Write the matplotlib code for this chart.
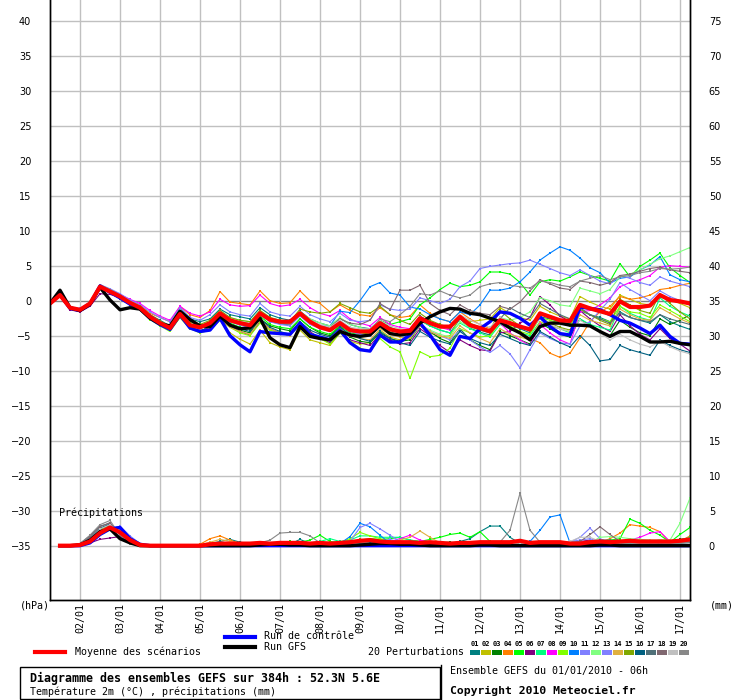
import matplotlib
matplotlib.use("Agg")
import matplotlib.pyplot as plt
from matplotlib.patches import Rectangle
from matplotlib.transforms import ScaledTranslation
import numpy as np

MONO = "DejaVu Sans Mono"

# time axis: 01/01/2010 06h + 6h steps, 384h
hours_t = np.arange(0, 385, 6)
hours_p = hours_t[1:]
date_ticks = np.arange(18, 384, 24)
date_labels = ["%02d/01" % d for d in range(2, 18)]

# ---- temperature 2m (degC) ----
mean_t = [-0.4, 0.8, -1.0, -1.3, -0.4, 2.0, 1.3, 0.6, -0.3, -1.0, -2.3, -3.2, -3.9, -1.9, -3.5, -3.8,
          -3.2, -1.8, -2.8, -3.2, -3.5, -1.8, -2.7, -3.0, -3.0, -1.8, -3.0, -3.8, -4.2, -3.2, -4.2, -4.4,
          -4.4, -3.2, -4.1, -4.4, -4.3, -2.5, -3.2, -3.7, -3.7, -2.3, -3.5, -3.9, -4.4, -2.8, -3.2, -3.7,
          -4.1, -1.8, -2.3, -2.8, -2.9, -0.6, -1.1, -1.5, -1.9, -0.1, -0.9, -0.9, -0.7, 0.8, 0.1, -0.1, -0.4]
control_t = [-0.4, 0.9, -1.1, -1.4, -0.5, 2.1, 1.2, 0.4, -0.5, -1.1, -2.5, -3.4, -4.1, -2.0, -3.9, -4.4,
             -4.2, -2.5, -5.0, -6.3, -7.3, -4.4, -4.6, -4.7, -4.8, -3.2, -4.8, -5.2, -5.6, -4.2, -6.0, -7.0,
             -7.2, -4.9, -5.9, -5.9, -4.9, -3.2, -4.9, -7.0, -7.8, -5.1, -5.4, -4.0, -3.0, -1.6, -1.8, -2.5,
             -3.5, -2.3, -3.7, -4.7, -4.9, -0.9, -1.1, -1.3, -2.0, -2.8, -3.2, -3.9, -4.7, -3.5, -5.1, -6.1, -6.2]
gfs_t = [-0.4, 1.5, -1.0, -1.4, -0.5, 1.9, 0.1, -1.3, -1.0, -1.2, -2.5, -3.3, -3.6, -1.5, -2.7, -3.6,
         -3.7, -2.2, -3.5, -4.0, -3.9, -2.5, -5.3, -6.3, -6.7, -3.7, -5.1, -5.4, -5.6, -4.4, -4.9, -5.1,
         -4.9, -3.5, -4.7, -4.9, -4.7, -3.2, -2.3, -1.6, -1.1, -1.2, -1.8, -2.0, -2.5, -3.0, -3.9, -4.6,
         -5.6, -3.7, -3.2, -3.2, -3.5, -3.5, -3.6, -4.4, -5.1, -4.4, -4.4, -5.1, -5.9, -5.9, -5.8, -6.1, -6.3]

t01 = [-0.4, 0.7, -1.2, -1.5, -0.6, 1.9, 1.4, 0.8, -0.1, -0.8, -2.0, -2.8, -3.6,
       -1.0, -2.6, -3.0, -2.6, -1.2, -2.0, -2.3, -2.6, -1.0, -2.0, -2.5, -2.8,
       -1.5, -2.6, -3.2, -3.6, -2.5, -3.4, -3.8, -4.0, -2.8, -3.8, -4.4, -4.6,
       -2.8, -3.6, -4.2, -4.6, -2.6, -3.9, -4.5, -4.9, -2.9, -3.4, -4.0, -4.6,
       -2.3, -2.6, -3.0, -3.3, -1.4, -2.0, -2.4, -3.0, -1.6, -2.4, -2.8, -3.2, -2.0, -3.0, -3.6, -4.1]
t02 = [-0.4, 0.9, -0.9, -1.2, -0.3, 2.2, 1.5, 0.7, -0.4, -1.2, -2.6, -3.5, -4.2,
       -2.4, -4.0, -4.4, -4.0, -2.8, -4.6, -5.5, -6.2, -4.2, -6.0, -6.6, -7.0,
       -4.2, -5.6, -6.0, -6.4, -4.6, -5.8, -6.2, -6.0, -4.2, -5.2, -5.6, -5.4,
       -3.4, -4.6, -5.2, -5.0, -2.2, -3.0, -2.8, -2.6, -1.0, -1.8, -2.4, -2.8,
       -0.8, -1.6, -2.2, -2.6, 0.6, -0.2, -0.8, -1.2, 0.8, 0.2, -0.4, -0.6, 1.0, 0.2, -0.4, -1.0]
t03 = [-0.4, 0.8, -1.1, -1.4, -0.5, 1.9, 1.2, 0.5, -0.4, -1.1, -2.4, -3.3, -4.0,
       -2.2, -3.9, -4.3, -3.8, -2.4, -3.5, -4.2, -4.6, -2.6, -3.6, -4.0, -4.3,
       -2.6, -3.8, -4.6, -5.0, -3.6, -5.2, -5.8, -6.0, -4.6, -5.4, -5.8, -5.6,
       -3.6, -4.4, -5.4, -6.0, -4.0, -5.6, -6.4, -7.0, -4.4, -5.0, -5.6, -6.2,
       -3.2, -4.0, -4.8, -5.2, -2.6, -3.6, -4.4, -5.0, -2.8, -3.8, -4.6, -5.0, -2.6, -3.4, -2.8, -2.0]
t04 = [-0.4, 0.8, -1.0, -1.2, -0.2, 2.2, 1.6, 0.9, 0.0, -0.6, -1.8, -2.4, -3.0,
       -0.8, -2.0, -2.4, -1.4, 1.3, -0.2, -0.4, -0.6, 1.4, 0.0, -0.4, -0.3,
       1.4, 0.0, -0.4, -1.6, -0.6, -1.4, -2.0, -2.2, -1.0, -2.0, -2.4, -2.2,
       -0.6, -1.8, -2.6, -3.0, -1.6, -2.6, -3.4, -4.0, -2.8, -3.8, -4.6, -5.4,
       -6.0, -7.5, -8.1, -7.5, -5.3, -3.0, -1.6, -0.8, 0.6, 0.2, 0.4, 0.8, 1.6, 1.8, 2.2, 2.5]
t05 = [-0.4, 0.8, -1.0, -1.3, -0.4, 2.1, 1.4, 0.7, -0.2, -1.0, -2.2, -3.0, -3.8,
       -1.8, -3.6, -4.0, -3.4, -2.0, -3.2, -3.8, -4.0, -2.2, -3.4, -3.8, -4.0,
       -2.6, -3.8, -4.4, -4.8, -3.6, -4.6, -4.8, -4.6, -2.8, -3.4, -3.0, -2.6,
       -0.6, 0.4, 1.6, 2.5, 2.0, 2.2, 2.7, 4.1, 4.1, 3.8, 2.6, 0.8,
       2.7, 3.0, 2.8, 3.4, 4.1, 3.6, 3.2, 2.8, 5.3, 3.4, 4.9, 5.8, 6.8, 4.7, 3.6, 2.6]
t06 = [-0.4, 0.6, -1.3, -1.6, -0.8, 1.0, 0.9, 0.5, -0.5, -1.2, -2.6, -3.5, -4.2,
       -2.3, -3.8, -4.3, -3.8, -2.4, -3.6, -4.4, -4.9, -3.0, -4.0, -4.6, -5.0,
       -3.0, -4.4, -5.4, -6.0, -4.6, -5.6, -6.0, -6.4, -4.8, -5.6, -6.2, -6.0,
       -4.0, -5.0, -6.4, -7.4, -5.6, -6.4, -7.0, -7.2, -4.6, -4.4, -3.2, -2.4,
       0.6, -0.6, -2.2, -3.0, -1.4, -2.6, -3.6, -4.4, -2.0, -3.6, -4.8, -5.6, -4.0, -5.4, -6.2, -7.2]
t07 = [-0.4, 0.8, -0.9, -1.2, -0.3, 2.0, 1.3, 0.6, -0.3, -1.0, -2.2, -3.1, -3.8,
       -1.8, -3.4, -3.7, -3.0, -1.4, -2.6, -3.0, -3.3, -1.6, -2.6, -3.0, -3.1,
       -1.8, -3.0, -3.6, -4.0, -3.0, -4.0, -4.2, -4.2, -3.0, -4.0, -4.4, -4.6,
       -2.8, -3.6, -4.2, -4.6, -3.2, -4.0, -4.6, -5.2, -3.4, -4.0, -4.6, -5.0,
       -3.0, -3.6, -4.0, -4.6, -2.6, -3.4, -3.8, -4.2, -0.8, -1.8, -2.4, -2.8, 0.4, -0.8, -1.6, -2.2]
t08 = [-0.4, 0.8, -1.0, -1.2, -0.3, 2.1, 1.5, 0.9, 0.2, -0.4, -1.4, -2.2, -2.8,
       -0.8, -1.8, -2.2, -1.6, 0.2, -0.6, -0.8, -0.7, 0.8, -0.4, -0.8, -0.6,
       0.2, -1.0, -1.8, -2.2, -1.4, -2.6, -3.2, -3.6, -2.4, -3.4, -3.8, -4.0,
       -2.2, -3.2, -3.8, -4.2, -2.0, -3.4, -4.0, -4.4, -3.2, -4.6, -5.6, -6.4,
       -3.4, -4.6, -5.6, -6.2, -1.6, -1.4, -0.6, 0.4, 2.0, 2.6, 3.0, 3.6, 4.8, 5.0, 4.9, 4.8]
t09 = [-0.4, 0.8, -1.1, -1.4, -0.5, 1.9, 1.2, 0.4, -0.5, -1.3, -2.7, -3.6, -4.4,
       -2.4, -4.0, -4.6, -4.2, -2.8, -3.8, -4.6, -5.0, -3.2, -4.2, -4.6, -5.0,
       -3.2, -4.6, -5.4, -6.2, -4.6, -5.8, -6.8, -7.2, -5.4, -6.6, -7.3, -11.1,
       -7.3, -8.0, -7.8, -6.8, -4.0, -4.6, -5.2, -5.0, -3.0, -3.6, -4.4, -4.8,
       -2.4, -2.8, -3.2, -3.6, -1.2, -2.0, -2.6, -3.0, -0.8, -1.6, -1.8, -2.4, -0.6, -1.4, -2.2, -3.0]
t10 = [-0.4, 0.9, -1.0, -1.3, -0.4, 2.1, 1.4, 0.6, -0.4, -1.1, -2.4, -3.3, -4.0,
       -2.0, -3.6, -3.9, -3.4, -2.0, -3.0, -3.4, -3.8, -2.0, -3.0, -3.3, -3.4,
       -2.0, -3.2, -3.6, -3.6, -1.5, -1.7, 0.0, 2.0, 2.6, 1.1, 0.8, -0.9,
       -1.2, -2.0, -2.6, -3.0, -1.6, -2.0, -0.6, 1.5, 1.5, 1.8, 2.7, 4.1,
       5.8, 6.8, 7.7, 7.2, 6.1, 4.7, 4.0, 2.5, 3.2, 3.4, 4.4, 5.1, 6.3, 3.7, 3.0, 2.7]
t11 = [-0.4, 0.8, -0.9, -1.1, -0.2, 2.3, 1.7, 1.0, 0.1, -0.6, -1.6, -2.4, -3.0,
       -1.0, -2.4, -2.8, -2.0, -0.6, -1.6, -2.0, -2.2, -0.4, -1.6, -2.0, -2.2,
       -0.8, -2.0, -2.6, -3.0, -1.8, -2.8, -3.0, -2.8, -0.6, -1.2, -1.4, -1.2,
       0.4, 0.0, -0.4, 0.2, 2.0, 2.8, 4.6, 4.9, 5.1, 5.3, 5.4, 5.8,
       5.2, 4.6, 4.0, 3.6, 4.4, 3.6, 2.8, 2.4, 3.6, 3.2, 2.6, 2.2, 3.4, 2.8, 2.4, 2.0]
t12 = [-0.4, 0.8, -1.0, -1.3, -0.4, 2.0, 1.3, 0.6, -0.2, -0.9, -2.1, -3.0, -3.7,
       -1.6, -3.2, -3.6, -3.0, -1.6, -2.4, -2.8, -3.0, -1.4, -2.4, -2.8, -3.0,
       -1.6, -2.6, -3.2, -3.6, -2.4, -3.4, -3.8, -4.2, -3.0, -4.4, -5.0, -5.4,
       -3.4, -4.2, -4.8, -5.2, -3.0, -3.8, -4.2, -4.6, -2.4, -2.8, -2.4, -1.6,
       0.4, 0.0, -0.6, -0.8, 1.8, 1.4, 1.0, 1.6, 3.4, 3.8, 4.4, 5.2, 6.0, 6.4, 7.0, 7.6]
t13 = [-0.4, 0.8, -1.0, -1.4, -0.5, 1.8, 1.2, 0.5, -0.4, -1.1, -2.4, -3.3, -4.0,
       -1.9, -3.6, -4.0, -3.4, -2.0, -3.0, -3.5, -3.8, -2.0, -3.0, -3.4, -3.6,
       -2.2, -3.4, -4.0, -4.4, -3.4, -4.4, -4.8, -5.0, -3.8, -4.6, -5.0, -5.2,
       -3.6, -4.4, -5.0, -5.6, -4.2, -5.6, -6.6, -7.4, -6.4, -7.6, -9.6, -7.0,
       -4.6, -5.4, -6.0, -6.2, -3.6, -3.0, -1.4, 0.2, 2.6, 1.6, 0.8, 0.0, 1.4, 0.6, 0.0, -0.6]
t14 = [-0.4, 0.7, -1.1, -1.4, -0.5, 2.0, 1.3, 0.5, -0.4, -1.1, -2.4, -3.4, -4.1,
       -2.2, -3.8, -4.4, -4.0, -2.6, -3.8, -4.4, -4.8, -2.8, -4.0, -4.6, -5.0,
       -3.4, -4.6, -5.2, -5.6, -4.0, -5.0, -5.4, -5.6, -4.0, -4.8, -5.2, -5.4,
       -3.6, -4.4, -5.0, -5.4, -3.6, -4.6, -5.4, -6.0, -4.0, -4.8, -5.2, -5.6,
       -3.0, -3.6, -4.0, -4.4, -2.0, -2.8, -3.2, -3.6, -1.2, -2.0, -2.6, -2.8, -1.0, -1.8, -2.6, -3.2]
t15 = [-0.4, 0.8, -1.0, -1.3, -0.4, 2.0, 1.3, 0.6, -0.2, -0.8, -2.0, -2.9, -3.6,
       -1.6, -3.0, -3.4, -2.8, -1.4, -2.4, -2.8, -3.0, -1.4, -2.4, -2.8, -3.0,
       -1.2, -1.6, -1.8, -1.6, -0.4, -1.0, -1.6, -1.8, -0.8, -2.0, -2.8, -3.4,
       -1.8, -2.8, -3.4, -3.8, -2.2, -3.2, -3.8, -4.2, -1.4, -2.6, -3.6, -4.4,
       -2.4, -3.2, -3.8, -4.2, -1.2, -2.0, -2.8, -3.4, 0.2, -0.6, -1.4, -1.8, 1.0, -0.4, -1.6, -2.6]
t16 = [-0.4, 0.7, -1.2, -1.5, -0.6, 1.8, 1.1, 0.3, -0.6, -1.3, -2.6, -3.5, -4.2,
       -2.3, -3.9, -4.4, -3.6, -2.2, -3.4, -4.0, -4.4, -2.6, -3.8, -4.4, -4.8,
       -3.0, -4.2, -4.8, -5.2, -3.8, -4.8, -5.4, -5.8, -4.4, -5.4, -6.0, -6.4,
       -4.4, -5.2, -5.8, -6.2, -4.4, -5.4, -6.0, -6.4, -4.8, -5.4, -6.0, -6.4,
       -4.4, -5.2, -6.0, -6.6, -5.0, -6.4, -8.6, -8.4, -6.4, -7.0, -7.4, -7.8, -5.6, -6.4, -7.0, -7.4]
t17 = [-0.4, 0.8, -1.0, -1.3, -0.4, 2.0, 1.4, 0.7, -0.2, -0.9, -2.1, -3.0, -3.7,
       -1.7, -3.4, -3.8, -3.2, -1.8, -2.8, -3.2, -3.4, -1.8, -2.8, -3.2, -3.4,
       -2.0, -3.2, -3.8, -4.2, -3.0, -4.0, -4.4, -4.6, -3.4, -4.2, -4.6, -4.8,
       -2.2, -3.0, -3.6, -4.0, -2.4, -3.6, -4.2, -4.6, -2.6, -1.0, -1.8, -2.4,
       -0.4, -1.2, -2.0, -2.6, -1.0, -2.0, -2.6, -3.2, -1.8, -2.4, -2.8, -3.0, -2.0, -2.6, -3.0, -3.4]
t18 = [-0.4, 0.8, -1.0, -1.3, -0.4, 2.0, 1.3, 0.6, -0.3, -1.0, -2.2, -3.1, -3.8,
       -1.8, -3.4, -3.8, -3.2, -1.8, -2.8, -3.2, -3.4, -1.8, -2.8, -3.1, -3.3,
       -1.9, -3.0, -3.6, -3.8, -2.6, -3.2, -3.4, -2.8, -0.4, -1.3, 1.5, 1.5,
       2.2, -0.4, -1.4, -2.0, -0.6, -1.4, -1.8, -2.0, -0.8, -1.2, -0.2, 1.4,
       3.0, 2.4, 1.8, 1.6, 2.8, 2.6, 2.2, 2.6, 3.6, 3.8, 4.2, 4.6, 4.8, 4.4, 4.2, 4.0]
t19 = [-0.4, 0.8, -1.0, -1.2, -0.3, 2.1, 1.4, 0.7, -0.2, -0.9, -2.2, -3.1, -3.8,
       -1.8, -3.5, -3.8, -3.2, -1.6, -2.6, -3.0, -3.2, -1.6, -2.6, -3.0, -3.2,
       -1.8, -2.8, -3.4, -3.8, -2.8, -3.8, -4.0, -4.0, -2.8, -3.6, -4.0, -4.2,
       -2.4, -3.2, -3.6, -3.8, -2.0, -2.8, -3.4, -3.8, -2.4, -3.2, -3.8, -4.2,
       -2.6, -3.4, -4.0, -4.4, -2.8, -3.6, -4.6, -5.6, -4.8, -5.6, -6.2, -6.6, -5.8, -6.6, -7.2, -7.6]
t20 = [-0.4, 0.9, -0.9, -1.2, -0.3, 2.3, 1.6, 0.8, -0.2, -1.0, -2.3, -3.2, -3.9,
       -1.9, -3.5, -3.9, -3.2, -1.8, -2.9, -3.3, -3.4, -1.6, -2.8, -3.2, -3.4,
       -2.0, -3.2, -3.8, -4.2, -3.2, -4.2, -4.4, -4.2, -2.6, -3.0, -2.0, -0.8,
       1.0, 0.8, 1.4, 0.8, 0.4, 0.8, 2.0, 2.4, 2.6, 2.2, 2.0, 1.8,
       2.8, 2.6, 2.2, 2.0, 2.8, 3.2, 3.6, 3.0, 3.4, 3.6, 4.0, 4.2, 4.6, 4.5, 4.6, 4.8]

# ---- precipitation (mm per 6h), from +6h ----
mean_p = [0, 0, 0.1, 0.6, 1.8, 2.6, 1.9, 0.8, 0.1, 0, 0, 0, 0, 0, 0, 0.2,
          0.3, 0.3, 0.3, 0.3, 0.4, 0.3, 0.4, 0.4, 0.4, 0.3, 0.4, 0.3, 0.4, 0.5, 0.7, 0.8,
          0.6, 0.5, 0.5, 0.5, 0.4, 0.5, 0.4, 0.3, 0.4, 0.4, 0.5, 0.5, 0.5, 0.5, 0.7, 0.4,
          0.5, 0.5, 0.5, 0.3, 0.3, 0.5, 0.6, 0.5, 0.6, 0.7, 0.6, 0.6, 0.6, 0.6, 0.7, 0.9]
control_p = [0, 0, 0, 0.4, 1.6, 2.4, 2.6, 1.0, 0.2, 0, 0, 0, 0, 0, 0, 0,
             0, 0, 0, 0, 0, 0, 0, 0, 0, 0, 0, 0, 0, 0, 0, 0,
             0, 0, 0, 0, 0, 0, 0, 0, 0, 0, 0, 0, 0, 0, 0, 0,
             0, 0, 0, 0, 0, 0, 0, 0, 0, 0, 0, 0, 0, 0, 0, 0]
gfs_p = [0, 0, 0.1, 0.8, 2.0, 2.4, 1.0, 0.4, 0, 0, 0, 0, 0, 0, 0, 0,
         0, 0, 0, 0, 0.1, 0.2, 0.2, 0.1, 0.1, 0, 0, 0, 0, 0, 0.1, 0.2,
         0.3, 0.3, 0.2, 0.2, 0.1, 0, 0, 0, 0, 0, 0.1, 0.1, 0, 0, 0, 0,
         0, 0, 0, 0, 0, 0, 0.1, 0.1, 0, 0, 0, 0, 0, 0, 0, 0]

p01 = [0, 0, 0.2, 1.0, 2.4, 3.0, 1.6, 0.4, 0, 0, 0, 0, 0, 0, 0, 0.3,
       0.6, 0.9, 0.5, 0.3, 0.2, 0.2, 0.3, 0.2, 0.9, 0.3, 0.2, 0.1, 0.2, 0.3, 0.4, 0.2,
       0.2, 0.1, 0.2, 0.3, 0.2, 0.1, 0.2, 0.3, 0.6, 1.0, 2.0, 2.8, 2.8, 1.2, 0.3, 0.2,
       0.1, 0.2, 0.1, 0, 0.1, 0.2, 0.3, 0.2, 0.3, 0.4, 0.5, 0.3, 0.2, 0.1, 0.2, 0.3]
p02 = [0, 0, 0.1, 0.7, 2.0, 2.6, 1.8, 0.6, 0.1, 0, 0, 0, 0, 0, 0, 0.1,
       0.2, 0.3, 0.2, 0.1, 0.2, 0.3, 0.2, 0.1, 0.2, 0.3, 0.2, 0.2, 0.3, 0.5, 0.6, 0.4,
       0.3, 0.2, 0.3, 0.2, 0.2, 0.1, 0.2, 0.2, 0.3, 0.2, 0.3, 0.2, 0.1, 0.2, 0.3, 0.2,
       0.2, 0.3, 0.2, 0.1, 0.2, 0.3, 0.4, 0.2, 0.3, 0.6, 0.4, 0.3, 0.2, 0.3, 0.5, 0.4]
p03 = [0, 0, 0.1, 0.9, 2.4, 2.9, 1.7, 0.5, 0, 0, 0, 0, 0, 0, 0.1, 0.2,
       0.3, 0.2, 0.4, 0.3, 0.2, 0.3, 0.4, 0.3, 0.2, 0.4, 0.3, 0.2, 0.3, 0.4, 0.5, 0.6,
       0.4, 0.3, 0.2, 0.4, 0.3, 0.2, 0.4, 0.5, 0.3, 0.2, 0.4, 0.3, 0.2, 0.3, 0.2, 0.3,
       0.4, 0.3, 0.2, 0.3, 0.4, 0.5, 0.6, 0.8, 0.6, 0.5, 0.4, 0.6, 0.8, 0.6, 0.9, 1.1]
p04 = [0, 0, 0.1, 0.8, 2.2, 2.7, 1.8, 0.6, 0.1, 0, 0, 0, 0, 0, 0.2, 1.0,
       1.4, 0.8, 0.3, 0.2, 0.3, 0.2, 0.3, 0.2, 0.3, 0.2, 0.2, 0.3, 0.2, 0.3, 0.4, 0.3,
       0.2, 0.3, 0.2, 0.3, 0.4, 0.3, 0.2, 0.2, 0.3, 0.2, 0.3, 0.2, 0.3, 0.2, 0.2, 0.3,
       0.2, 0.3, 0.2, 0.2, 0.3, 0.4, 0.5, 1.0, 1.8, 3.0, 2.8, 2.6, 2.0, 0.4, 0.6, 1.4]
p05 = [0, 0, 0.1, 0.8, 2.1, 2.7, 1.9, 0.7, 0.1, 0, 0, 0, 0, 0, 0, 0.2,
       0.3, 0.2, 0.2, 0.3, 0.2, 0.3, 0.4, 0.6, 0.5, 0.8, 1.5, 0.6, 0.4, 0.5, 0.8, 1.0,
       0.9, 1.0, 1.2, 0.8, 0.6, 0.9, 1.2, 1.6, 1.8, 1.2, 2.0, 0.6, 0.4, 0.3, 0.2, 0.3,
       0.2, 0.3, 0.4, 0.5, 0.4, 0.5, 0.6, 0.8, 1.0, 3.8, 3.2, 2.2, 1.5, 0.5, 1.6, 2.6]
p06 = [0, 0, 0.1, 0.4, 0.9, 1.1, 1.3, 0.6, 0.1, 0, 0, 0, 0, 0, 0, 0.1,
       0.2, 0.1, 0.2, 0.3, 0.2, 0.1, 0.2, 0.3, 0.2, 0.1, 0.2, 0.3, 0.4, 0.3, 0.2, 0.3,
       0.4, 0.5, 0.3, 0.2, 0.3, 0.2, 0.1, 0.2, 0.3, 0.2, 0.1, 0.2, 0.3, 0.2, 0.1, 0.2,
       0.3, 0.2, 0.3, 0.4, 0.6, 0.8, 0.4, 0.3, 0.2, 0.3, 0.2, 0.4, 0.3, 0.2, 0.3, 0.4]
p07 = [0, 0, 0.1, 0.9, 2.3, 2.8, 1.8, 0.5, 0, 0, 0, 0, 0, 0, 0, 0.2,
       0.3, 0.2, 0.3, 0.2, 0.3, 0.4, 0.3, 0.2, 0.3, 0.4, 0.6, 1.0, 0.6, 0.8, 1.4, 1.4,
       1.2, 1.2, 1.2, 0.8, 0.6, 0.5, 0.4, 0.3, 0.4, 0.5, 0.3, 0.2, 0.3, 0.2, 0.3, 0.4,
       0.3, 0.2, 0.3, 0.2, 0.3, 0.4, 0.3, 0.5, 0.6, 0.8, 0.6, 0.5, 0.4, 0.6, 0.8, 1.2]
p08 = [0, 0, 0.2, 1.0, 2.3, 2.9, 2.0, 0.7, 0.1, 0, 0, 0, 0, 0, 0, 0.3,
       0.4, 0.5, 0.4, 0.3, 0.4, 0.3, 0.2, 0.3, 0.2, 0.3, 0.2, 0.3, 0.4, 0.3, 0.5, 0.6,
       0.5, 0.6, 1.0, 1.5, 0.8, 0.5, 0.4, 0.3, 0.4, 0.3, 0.4, 0.5, 0.4, 0.3, 0.2, 0.3,
       0.2, 0.3, 0.4, 0.3, 0.5, 0.6, 0.8, 0.7, 0.6, 0.8, 1.2, 1.8, 2.0, 0.6, 0.4, 0.5]
p09 = [0, 0, 0.1, 0.7, 2.0, 2.6, 1.9, 0.7, 0.1, 0, 0, 0, 0, 0, 0, 0.1,
       0.2, 0.3, 0.2, 0.1, 0.2, 0.3, 0.2, 0.3, 0.2, 0.3, 0.4, 0.3, 0.5, 1.0, 1.9, 1.4,
       1.0, 0.6, 0.4, 0.3, 0.2, 0.3, 0.2, 0.1, 0.2, 0.3, 0.2, 0.1, 0.2, 0.3, 0.2, 0.1,
       0.2, 0.1, 0.2, 0.3, 0.2, 0.3, 0.4, 0.3, 0.4, 0.5, 0.3, 0.4, 0.5, 0.6, 0.4, 0.5]
p10 = [0, 0, 0, 0.5, 1.7, 2.5, 2.7, 1.2, 0.3, 0, 0, 0, 0, 0, 0, 0.1,
       0.2, 0.1, 0.2, 0.1, 0.2, 0.1, 0.2, 0.1, 0.2, 0.1, 0.2, 0.1, 0.3, 1.3, 3.2, 2.7,
       1.5, 0.3, 0.2, 0.1, 0.2, 0.1, 0.2, 0.1, 0.2, 0.1, 0.2, 0.1, 0.2, 0.1, 0.3, 0.6,
       2.2, 4.1, 4.4, 0.4, 0.2, 0.1, 0.2, 0.3, 0.2, 0.3, 0.4, 0.3, 0.2, 0.3, 0.4, 0.3]
p11 = [0, 0, 0, 0.4, 1.5, 2.3, 2.8, 1.4, 0.3, 0, 0, 0, 0, 0, 0, 0.2,
       0.3, 0.4, 0.3, 0.4, 0.3, 0.2, 0.3, 0.4, 0.3, 0.2, 0.3, 0.4, 0.3, 0.6, 2.6, 3.2,
       2.4, 1.5, 0.6, 0.4, 0.3, 0.2, 0.3, 0.2, 0.3, 0.4, 0.3, 0.2, 0.3, 0.4, 0.3, 0.2,
       0.3, 0.4, 0.3, 0.5, 1.2, 2.5, 1.0, 0.4, 0.3, 0.4, 0.6, 0.5, 0.4, 0.5, 0.6, 0.7]
p12 = [0, 0, 0.1, 0.8, 2.2, 2.7, 1.8, 0.6, 0.1, 0, 0, 0, 0, 0, 0, 0.1,
       0.2, 0.2, 0.3, 0.2, 0.3, 0.2, 0.3, 0.2, 0.3, 0.2, 0.3, 0.4, 0.3, 0.2, 0.4, 0.5,
       0.4, 0.3, 0.5, 0.4, 0.3, 0.2, 0.3, 0.4, 0.3, 0.2, 0.3, 0.4, 0.3, 0.2, 0.3, 0.4,
       0.3, 0.4, 0.5, 0.4, 0.3, 0.4, 1.2, 1.3, 1.2, 1.0, 0.9, 0.8, 0.8, 0.8, 3.2, 6.8]
p13 = [0, 0, 0.1, 0.6, 1.8, 2.5, 2.4, 1.0, 0.2, 0, 0, 0, 0, 0, 0, 0.1,
       0.2, 0.3, 0.2, 0.3, 0.4, 0.3, 0.2, 0.3, 0.4, 0.3, 0.2, 0.3, 0.4, 0.5, 0.6, 0.5,
       0.6, 0.9, 0.5, 0.3, 0.2, 0.3, 0.2, 0.3, 0.2, 0.3, 0.4, 0.3, 0.2, 0.3, 0.4, 0.3,
       0.2, 0.3, 0.4, 0.6, 0.8, 1.0, 0.5, 0.4, 0.3, 0.4, 0.5, 0.4, 0.3, 0.5, 0.4, 0.6]
p14 = [0, 0, 0.1, 0.8, 2.1, 2.8, 1.9, 0.6, 0.1, 0, 0, 0, 0, 0, 0.1, 0.5,
       0.9, 0.6, 0.3, 0.2, 0.3, 0.2, 0.3, 0.4, 0.3, 0.2, 0.3, 0.2, 0.3, 0.4, 0.3, 0.4,
       0.3, 0.4, 0.8, 1.2, 2.1, 1.2, 0.4, 0.3, 0.2, 0.3, 0.2, 0.3, 0.2, 0.3, 0.4, 0.3,
       0.2, 0.3, 0.2, 0.3, 0.4, 0.3, 0.4, 0.5, 0.4, 0.5, 0.6, 0.4, 0.5, 0.4, 0.5, 0.6]
p15 = [0, 0, 0.1, 0.9, 2.3, 2.9, 1.8, 0.5, 0, 0, 0, 0, 0, 0, 0, 0.1,
       0.2, 0.3, 0.2, 0.3, 0.2, 0.3, 0.2, 0.1, 0.2, 0.3, 0.4, 0.5, 0.3, 0.4, 0.9, 0.8,
       0.5, 0.4, 0.3, 0.2, 0.3, 0.2, 0.3, 0.2, 0.3, 0.2, 0.3, 0.4, 0.3, 0.2, 0.3, 0.2,
       0.1, 0.2, 0.3, 0.2, 0.3, 0.4, 0.3, 0.2, 0.3, 0.4, 0.3, 0.4, 0.5, 0.3, 0.4, 0.5]
p16 = [0, 0, 0.2, 1.1, 2.5, 3.1, 1.7, 0.4, 0, 0, 0, 0, 0, 0, 0, 0.1,
       0.2, 0.1, 0.2, 0.3, 0.2, 0.1, 0.2, 0.3, 0.2, 0.1, 0.2, 0.3, 0.2, 0.1, 0.3, 0.4,
       0.3, 0.2, 0.1, 0.2, 0.3, 0.2, 0.1, 0.2, 0.3, 0.2, 0.1, 0.2, 0.3, 0.2, 0.1, 0.2,
       0.3, 0.2, 0.1, 0.2, 0.3, 0.4, 0.3, 0.2, 0.3, 0.2, 0.3, 0.4, 0.3, 0.2, 0.3, 0.4]
p17 = [0, 0, 0.3, 1.4, 2.8, 3.2, 1.5, 0.3, 0, 0, 0, 0, 0, 0, 0, 0.2,
       0.3, 0.4, 0.3, 0.4, 0.5, 0.4, 0.3, 0.2, 0.3, 0.4, 0.3, 0.2, 0.3, 0.4, 0.5, 0.6,
       0.5, 0.4, 0.3, 0.4, 0.3, 0.2, 0.3, 0.4, 0.3, 0.2, 0.3, 0.4, 0.3, 0.4, 0.3, 0.2,
       0.3, 0.4, 0.3, 0.2, 0.4, 0.6, 0.8, 0.8, 0.5, 0.4, 0.3, 0.4, 0.5, 0.4, 0.3, 0.4]
p18 = [0, 0, 0.3, 1.3, 2.7, 3.3, 1.6, 0.4, 0, 0, 0, 0, 0, 0, 0, 0.1,
       0.2, 0.3, 0.2, 0.3, 0.2, 0.3, 0.4, 0.3, 0.2, 0.3, 0.4, 0.3, 0.2, 0.3, 0.4, 0.3,
       0.4, 0.3, 0.2, 0.3, 0.4, 0.3, 0.2, 0.3, 0.4, 0.3, 0.2, 0.3, 0.4, 0.3, 0.4, 0.3,
       0.2, 0.3, 0.4, 0.5, 0.6, 1.6, 2.7, 1.6, 0.6, 0.4, 0.3, 0.4, 0.5, 0.4, 0.5, 0.6]
p19 = [0, 0, 0.2, 1.0, 2.4, 3.0, 1.7, 0.5, 0, 0, 0, 0, 0, 0, 0, 0.1,
       0.2, 0.1, 0.2, 0.3, 0.2, 0.3, 0.2, 0.3, 0.2, 0.3, 0.2, 0.3, 0.2, 0.3, 0.4, 0.3,
       0.2, 0.3, 0.2, 0.3, 0.2, 0.3, 0.2, 0.3, 0.2, 0.3, 0.4, 0.3, 0.2, 0.3, 0.4, 0.3,
       0.2, 0.3, 0.4, 0.6, 1.2, 1.2, 0.6, 0.3, 0.2, 0.3, 0.2, 0.3, 0.2, 0.3, 0.2, 0.3]
p20 = [0, 0, 0.3, 1.5, 3.0, 3.6, 1.5, 0.3, 0, 0, 0, 0, 0, 0, 0, 0.1,
       0.2, 0.3, 0.2, 0.3, 0.4, 0.8, 1.8, 1.9, 1.9, 1.4, 0.4, 0.3, 0.2, 0.3, 0.4, 0.3,
       0.2, 0.3, 0.2, 0.3, 0.4, 0.3, 0.2, 0.3, 0.2, 0.3, 0.4, 0.3, 0.5, 2.2, 7.5, 2.2,
       0.5, 0.3, 0.2, 0.3, 0.4, 0.3, 0.2, 0.3, 0.4, 0.3, 0.2, 0.3, 0.4, 0.3, 0.4, 0.5]

pert_t = [t01, t02, t03, t04, t05, t06, t07, t08, t09, t10,
          t11, t12, t13, t14, t15, t16, t17, t18, t19, t20]
pert_p = [p01, p02, p03, p04, p05, p06, p07, p08, p09, p10,
          p11, p12, p13, p14, p15, p16, p17, p18, p19, p20]
pert_colors = ["#008080", "#c0c000", "#008000", "#ff8000", "#00ff00",
               "#800080", "#00ff80", "#ff00ff", "#80ff00", "#0080ff",
               "#8080ff", "#80ff80", "#8080ff", "#e0b040", "#80a800",
               "#006080", "#507078", "#806870", "#c0c0c0", "#888888"]

fig = plt.figure(figsize=(7.4, 7.0), dpi=100)
ax = fig.add_axes([50 / 740, 100 / 700, 640 / 740, 600 / 700])
ax.set_xlim(0, 384)
ax.set_ylim(-42.76, 42.96)
ax2 = ax.twinx()
ax2.set_ylim(-42.76 + 35, 42.96 + 35)

# grid
for v in range(-35, 41, 5):
    ax.axhline(v, color="#808080" if v == 0 else "#c0c0c0", lw=1.0, zorder=0)
for h in date_ticks:
    ax.axvline(h, color="#c0c0c0", lw=1.0, zorder=0)

for vals, col in zip(pert_t, pert_colors):
    ax.plot(hours_t, vals, color=col, lw=0.8, marker="s", ms=1.6, mew=0, zorder=2)
ax.plot(hours_t, control_t, color="#0000ff", lw=2.4, zorder=3)
ax.plot(hours_t, gfs_t, color="black", lw=2.4, zorder=3)
ax.plot(hours_t, mean_t, color="#ff0000", lw=3.0, zorder=4)

for vals, col in zip(pert_p, pert_colors):
    ax2.plot(hours_p, vals, color=col, lw=0.8, marker="s", ms=1.6, mew=0, zorder=2)
ax2.plot(hours_p, control_p, color="#0000ff", lw=2.4, zorder=3)
ax2.plot(hours_p, gfs_p, color="black", lw=2.4, zorder=3)
ax2.plot(hours_p, mean_p, color="#ff0000", lw=3.0, zorder=4)

ax.set_yticks(range(-35, 41, 5))
ax2.set_yticks(range(0, 76, 5))
ax.set_xticks(date_ticks)
ax.set_xticklabels(date_labels, rotation=90, fontsize=7.2, family=MONO)
for lab in ax.get_xticklabels():
    lab.set_transform(lab.get_transform() + ScaledTranslation(7 / 100, 0, fig.dpi_scale_trans))
ax.tick_params(axis="x", length=0, pad=2.5)
ax.tick_params(axis="y", length=0, pad=13.5, labelsize=7)
ax2.tick_params(axis="y", length=0, pad=13.5, labelsize=7)
for a in (ax, ax2):
    a.spines["top"].set_visible(False)
    for s in ("left", "right", "bottom"):
        a.spines[s].set_linewidth(1.0)
        a.spines[s].set_color("black")

# overlay in pixel coordinates for legend and captions
ov = fig.add_axes([0, 0, 1, 1], zorder=10)
ov.set_xlim(0, 740)
ov.set_ylim(700, 0)
ov.axis("off")
ov.patch.set_alpha(0)

ov.text(59, 513, "Précipitations", family=MONO, fontsize=7.2, va="center")
ov.text(20, 606, "(hPa)", family=MONO, fontsize=7.2, va="center")
ov.text(710, 606, "(mm)", family=MONO, fontsize=7.2, va="center")

ov.plot([35, 65], [652, 652], color="#ff0000", lw=3.0)
ov.text(75, 652, "Moyenne des scénarios", family=MONO, fontsize=7.2, va="center")
ov.plot([225, 255], [637, 637], color="#0000ff", lw=3.0)
ov.text(264, 636, "Run de contrôle", family=MONO, fontsize=7.2, va="center")
ov.plot([225, 255], [647, 647], color="black", lw=3.0)
ov.text(264, 647, "Run GFS", family=MONO, fontsize=7.2, va="center")
ov.text(368, 652, "20 Perturbations", family=MONO, fontsize=7.2, va="center")
for k, col in enumerate(pert_colors):
    x0 = 470 + 11 * k
    ov.add_patch(Rectangle((x0, 650), 10, 5, color=col, lw=0))
    ov.text(x0 + 5, 644, "%02d" % (k + 1), family=MONO, fontsize=5, fontweight="bold",
            ha="center", va="center")

ov.add_patch(Rectangle((20, 667), 420, 32, fill=False, ec="black", lw=1.0))
ov.text(30, 678, "Diagramme des ensembles GEFS sur 384h : 52.3N 5.6E", family=MONO,
        fontsize=8.4, fontweight="bold", va="center")
ov.text(30, 692, "Température 2m (°C) , précipitations (mm)", family=MONO, fontsize=7.2,
        va="center")
ov.plot([441, 441], [665, 700], color="black", lw=1.0)
ov.text(450, 671, "Ensemble GEFS du 01/01/2010 - 06h", family=MONO, fontsize=7.2, va="center")
ov.text(450, 691, "Copyright 2010 Meteociel.fr", family=MONO, fontsize=8.2,
        fontweight="bold", va="center")

fig.savefig("out.png", dpi=100)
